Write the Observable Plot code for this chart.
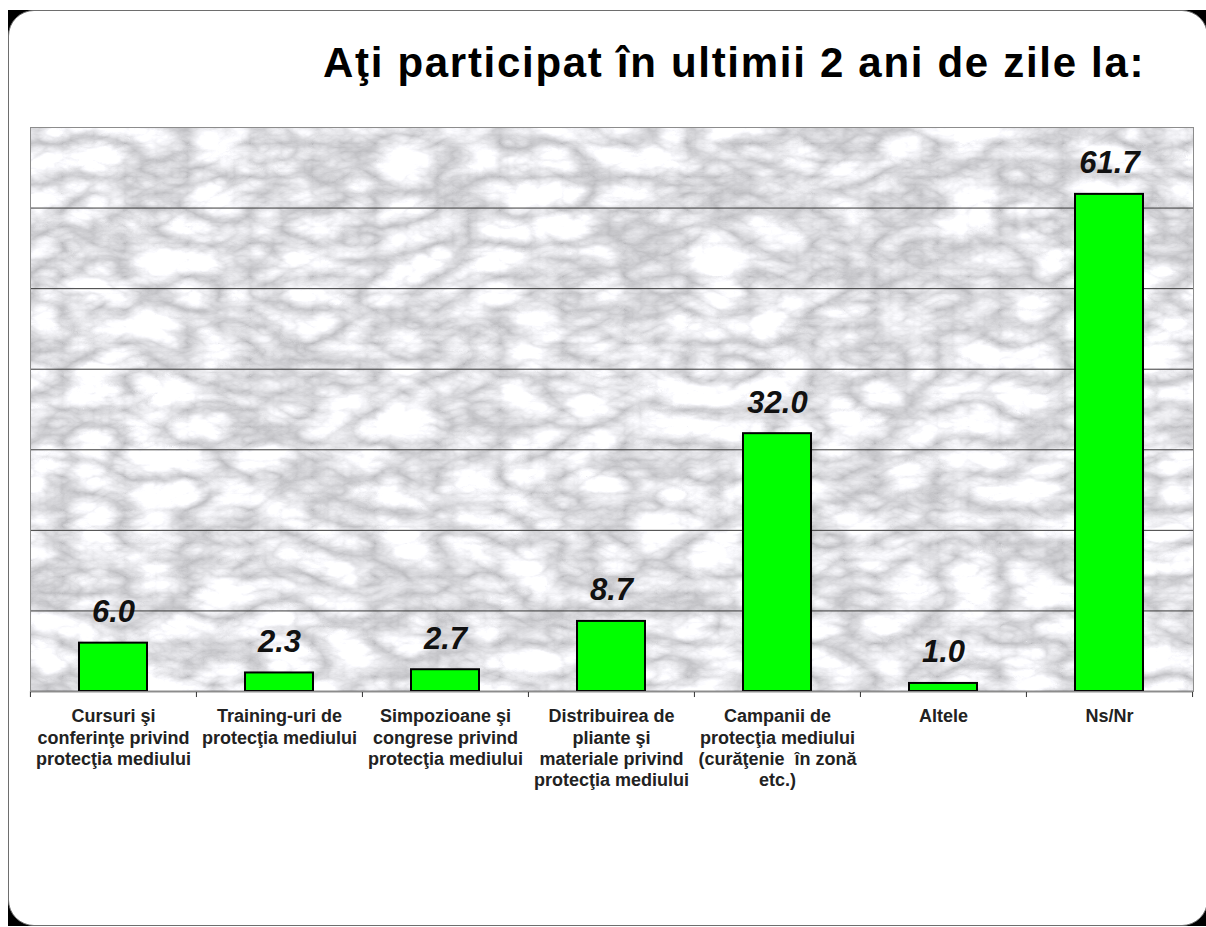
<!DOCTYPE html>
<html><head><meta charset="utf-8">
<script src="https://cdn.jsdelivr.net/npm/d3@7"></script>
<script src="https://cdn.jsdelivr.net/npm/@observablehq/plot@0.6"></script>
<style>
body{margin:0;background:#fff;font-family:"Liberation Sans",Arial,sans-serif;}
#page{position:relative;width:1206px;height:927px;overflow:hidden;}
#shadow{position:absolute;left:8px;top:10px;width:1200px;height:916px;background:#000;}
#card{position:absolute;left:8px;top:10px;width:1200px;height:916px;background:#fff;border:1.5px solid #6e6e6e;border-radius:26px;box-sizing:border-box;}
#title{position:relative;height:110px;box-sizing:border-box;padding-top:42px;padding-left:323px;font-size:42px;line-height:42px;letter-spacing:1.7px;font-weight:bold;color:#000;white-space:nowrap;}
#chart{position:relative;}
</style></head>
<body>
<div id="page">
  <div id="shadow"></div>
  <div id="card"></div>
  <div id="title">Aţi participat în ultimii 2 ani de zile la:</div>
  <div id="chart"></div>
</div>
<script>
const categories = [
  "Cursuri şi\nconferinţe privind\nprotecţia mediului",
  "Training-uri de\nprotecţia mediului",
  "Simpozioane şi\ncongrese privind\nprotecţia mediului",
  "Distribuirea de\npliante şi\nmateriale privind\nprotecţia mediului",
  "Campanii de\nprotecţia mediului\n(curăţenie  în zonă\netc.)",
  "Altele",
  "Ns/Nr"
];
const values = [6.0, 2.3, 2.7, 8.7, 32.0, 1.0, 61.7];
const yGrid = [10, 20, 30, 40, 50, 60];
const yDomain = [0, 70];

const W = 1206, H = 817, mL = 30, mR = 13, mT = 17, mB = 236;
const n = categories.length;
const step = (W - mL - mR) / n;
const data = categories.map((c, i) => ({category: c, value: values[i]}));

const plot = Plot.plot({
  width: W, height: H,
  marginLeft: mL, marginRight: mR, marginTop: mT, marginBottom: mB,
  style: {fontFamily: "'Liberation Sans', Arial, sans-serif", background: "transparent", overflow: "visible"},
  x: {domain: categories, paddingInner: 0.59, paddingOuter: 0.295, label: null},
  y: {domain: yDomain, label: null, axis: null},
  marks: [
    Plot.frame({fill: "#e2e2e2", stroke: "none", ariaLabel: "marble"}),
    Plot.ruleY(yGrid, {stroke: "#3a3a3a", strokeWidth: 1}),
    Plot.barY(data, {x: "category", y: "value", fill: "#00ff00", stroke: "#000", strokeWidth: 2}),
    Plot.text(data, {x: "category", y: "value", text: d => d.value.toFixed(1), lineAnchor: "bottom", dy: -21,
      fontSize: 31, fontWeight: "bold", fontStyle: "italic", fill: "#111"}),
    Plot.ruleY([0], {stroke: "#222", strokeWidth: 1.5}),
    Plot.ruleX(categories, {x: d => d, y1: 0, y2: -0.75, dx: -step / 2, stroke: "#333"}),
    Plot.ruleX([categories[n - 1]], {x: d => d, y1: 0, y2: -0.75, dx: step / 2, stroke: "#333"}),
    Plot.frame({stroke: "#8c8c8c", fill: "none"}),
    Plot.axisX({tickSize: 0, tickPadding: 16, fontSize: 18, fontWeight: "bold", fill: "#222", lineHeight: 1.17, label: null})
  ]
});

// marble texture for the plot background
const svgNS = "http://www.w3.org/2000/svg";
const defs = document.createElementNS(svgNS, "defs");
defs.innerHTML = `
<filter id="marble" x="0" y="0" width="1" height="1" filterUnits="objectBoundingBox" color-interpolation-filters="sRGB">
  <feTurbulence type="turbulence" baseFrequency="0.016 0.03" numOctaves="5" seed="11" result="t"/>
  <feColorMatrix in="t" type="matrix" values="0.5 0 0 0 0.73  0.5 0 0 0 0.73  0.5 0 0 0 0.745  0 0 0 0 1"/>
</filter>`;
plot.insertBefore(defs, plot.firstChild);
const mf = plot.querySelector('[aria-label="marble"]');
if (mf) {
  const r = mf.tagName.toLowerCase() === "rect" ? mf : mf.querySelector("rect");
  if (r) r.setAttribute("filter", "url(#marble)");
}
document.getElementById("chart").appendChild(plot);
</script>
</body></html>
